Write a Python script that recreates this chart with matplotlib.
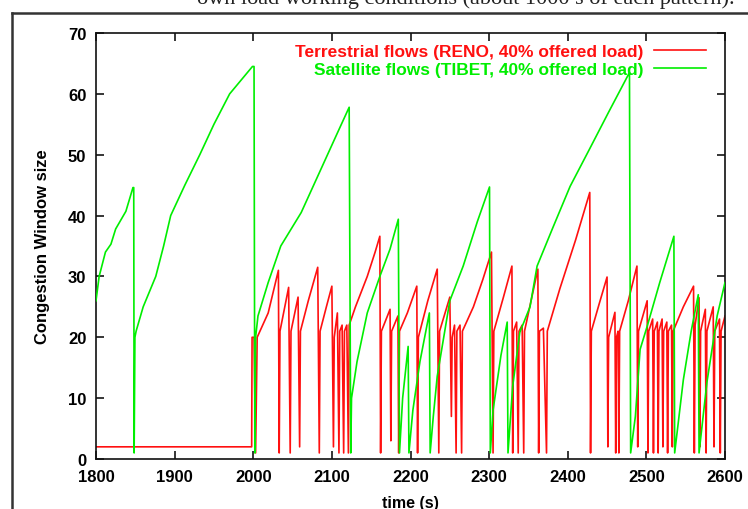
import matplotlib
matplotlib.use("Agg")
import matplotlib.pyplot as plt
from matplotlib.lines import Line2D

# ---------------- data ----------------
green_t = [1800, 1804, 1812, 1819, 1825, 1838, 1847, 1848, 1848.5, 1849.5, 1851, 1860, 1876, 1886,
           1895, 1913, 1932, 1950, 1970, 1999, 2001, 2002, 2003, 2006, 2019, 2035, 2061, 2086,
           2105, 2122, 2124, 2125, 2132, 2145, 2161, 2174, 2184.5, 2186, 2190, 2197, 2198, 2203,
           2212, 2224, 2225, 2229, 2234, 2250, 2267, 2285, 2300.5, 2301.5, 2305, 2315, 2323, 2324,
           2330, 2339, 2352, 2361, 2381, 2403, 2428, 2452, 2478.5, 2480, 2486, 2492, 2501, 2517,
           2535, 2536, 2547, 2557, 2566, 2567, 2577, 2590, 2600]
green_w = [26, 30, 34, 35.3, 37.8, 40.7, 44.6, 44.6, 1, 20, 21, 25, 30, 35,
           40, 45, 50, 55, 60, 64.5, 64.5, 1, 20, 23.5, 29, 35, 40.5, 47.6,
           53, 57.8, 1, 10, 16, 24, 30, 34.5, 39.4, 1, 10, 18.5, 1, 8,
           16, 24, 1, 7, 13.6, 26, 31.7, 39, 44.7, 1, 8, 17, 22.5, 1,
           12, 20.8, 25, 31.7, 38, 44.8, 51, 57, 63.5, 1, 7, 18, 21.8, 29,
           36.6, 1, 13, 21, 27, 1, 12.6, 23.5, 29]

red_t = [1800, 1998, 1998.5, 2001, 2003, 2005, 2019, 2032, 2033, 2034, 2045, 2047, 2048, 2057,
         2059, 2060, 2070, 2082, 2084, 2085, 2093, 2100, 2102, 2103, 2107, 2109, 2110, 2113,
         2115, 2116, 2119, 2121, 2122, 2130, 2145, 2155, 2161, 2162, 2163, 2174, 2175, 2176,
         2184, 2185, 2186, 2196, 2208, 2209, 2210, 2222, 2234, 2236, 2237, 2250, 2252, 2253,
         2256, 2258, 2259, 2263, 2265, 2266, 2280, 2292, 2303, 2305, 2306, 2318, 2329, 2330,
         2331, 2335, 2337, 2338, 2342, 2344, 2345, 2355, 2362, 2363, 2364, 2369, 2373, 2374,
         2390, 2410, 2428, 2429, 2430, 2440, 2450, 2451, 2452, 2460, 2461, 2462, 2464, 2465,
         2466, 2477, 2488, 2489, 2490, 2501, 2502, 2503, 2508, 2509, 2510, 2514, 2515, 2516,
         2520, 2521, 2522, 2526, 2527, 2528, 2532, 2533, 2534, 2547, 2560, 2561, 2562, 2567,
         2568, 2569, 2575, 2576, 2577, 2585, 2586, 2587, 2593, 2594, 2595, 2600]
red_w = [2, 2, 20, 20, 1, 20, 24, 31, 1, 21, 28.2, 1, 21, 26.6,
         2, 21, 26, 31.5, 1, 21, 25, 28.4, 2, 20, 24, 1, 21, 22,
         1, 21, 22, 1, 22, 25, 30, 34, 36.6, 1, 21, 24.6, 3, 21,
         23.5, 1, 21, 24, 28.4, 1, 20, 26, 31.2, 1, 21, 26.6, 7, 20,
         22, 1, 21, 22, 1, 21, 25, 29.5, 34, 1, 21, 26.5, 31.7, 1,
         21, 22.5, 1, 21, 22, 1, 21, 27, 31.2, 1, 21, 21.5, 1, 21,
         28, 36, 43.8, 1, 21, 25.5, 29.9, 2, 20, 24.1, 1, 20, 21, 1,
         21, 26, 31.7, 2, 21, 26, 1, 21, 23, 1, 21, 22.5, 1, 21,
         23, 2, 21, 22.5, 1, 21, 22, 2, 21, 25, 28.4, 1, 22, 26.5,
         2, 21, 24.6, 1, 21, 25, 2, 21, 23, 1, 21, 23.5]

x_ticks = [1800, 1900, 2000, 2100, 2200, 2300, 2400, 2500, 2600]
y_ticks = [0, 10, 20, 30, 40, 50, 60, 70]
red_label = "Terrestrial flows (RENO, 40% offered load)"
green_label = "Satellite flows (TIBET, 40% offered load)"
caption = "own load working conditions (about 1000 s of each pattern)."

# ---------------- figure ----------------
W, H = 748, 510
fig = plt.figure(figsize=(W / 100, H / 100), dpi=100)
fig.patch.set_facecolor("white")

sans = ["Liberation Sans", "DejaVu Sans"]

ax = fig.add_axes([96 / W, 50 / H, (725 - 96) / W, (460 - 34) / H])

ax.plot(red_t, red_w, color="#ff1010", lw=1.2, label=red_label, zorder=2)
ax.plot(green_t, green_w, color="#00ee00", lw=1.2, label=green_label, zorder=3)

ax.set_xlim(1800, 2600)
ax.set_ylim(0, 70)
ax.set_xticks(x_ticks)
ax.set_yticks(y_ticks)
ax.tick_params(direction="in", length=6, width=1.1, top=True, right=True,
               labelsize=12, pad=7)
for lab in ax.get_xticklabels() + ax.get_yticklabels():
    lab.set_fontfamily(sans)
    lab.set_fontweight("bold")
for s in ax.spines.values():
    s.set_linewidth(1.2)
    s.set_color("#111111")

ax.set_ylabel("Congestion Window size", fontsize=12, fontweight="bold",
              family=sans, labelpad=13)
ax.set_xlabel("time (s)", fontsize=11.5, fontweight="bold", family=sans, labelpad=8)

leg = ax.legend(loc="upper right", bbox_to_anchor=(0.995, 1.012), markerfirst=False,
                frameon=False, handlelength=3.0, handletextpad=0.6,
                labelspacing=0.2, labelcolor="linecolor",
                prop={"family": sans, "weight": "bold", "size": 12.5})
for h in leg.legend_handles:
    h.set_linewidth(1.2)

# outer page frame (partially visible)
fig.add_artist(Line2D([12 / W, 12 / W], [0, 1 - 14 / H], transform=fig.transFigure,
                      color="#333333", lw=1.8))
fig.add_artist(Line2D([12 / W, 1], [1 - 14 / H, 1 - 14 / H], transform=fig.transFigure,
                      color="#333333", lw=1.8))

# caption text of the page, clipped at the top edge as in the source
fig.text(735 / W, 1 - 4 / H, caption, ha="right", va="baseline",
         fontsize=16, family=["Liberation Serif", "DejaVu Serif"], color="#222222")

fig.savefig("out.png", dpi=100)
